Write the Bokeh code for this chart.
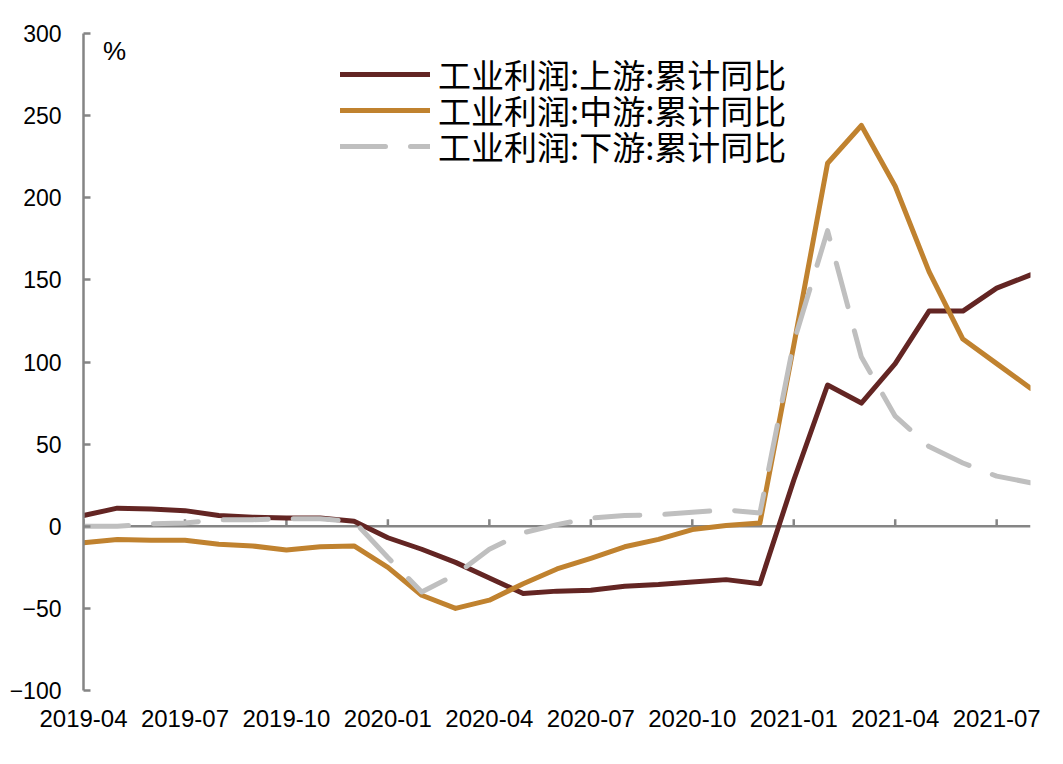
import math
from bokeh.plotting import figure
from bokeh.models import (ColumnDataSource, FixedTicker, Range1d, Span,
                          Legend, LegendItem, Label)
from bokeh.embed import file_html
from bokeh.resources import INLINE

months = ["2019-04", "2019-05", "2019-06", "2019-07", "2019-08", "2019-09",
          "2019-10", "2019-11", "2019-12", "2020-01", "2020-02", "2020-03",
          "2020-04", "2020-05", "2020-06", "2020-07", "2020-08", "2020-09",
          "2020-10", "2020-11", "2020-12", "2021-01", "2021-02", "2021-03",
          "2021-04", "2021-05", "2021-06", "2021-07", "2021-08"]

upstream = [6.5, 11, 10.5, 9.5, 6.5, 5.5, 5, 5, 3, -7, -14, -22, -31.5, -41,
            -39.5, -39, -36.5, -35.5, -34, -32.5, -35, 28, 86, 75, 99, 131,
            131, 145, 153]
midstream = [-10, -8, -8.5, -8.5, -11, -12, -14.5, -12.5, -12, -25, -42, -50,
             -45, -35, -26, -19.5, -12.5, -8, -2, 0.5, 2, 110, 221, 244, 207,
             155, 114, 99, 84]
downstream = [0, 0, 1.5, 2, 4, 4, 4.5, 4.5, 3, -19, -40, -29.5, -14, -4, 1, 5,
              6.5, 7, 8.5, 10, 8, 112, 180, 103, 67, 48.5, 38.5, 30.5, 26.5]

tick_labels = ["2019-04", "2019-07", "2019-10", "2020-01", "2020-04",
               "2020-07", "2020-10", "2021-01", "2021-04", "2021-07"]
y_ticks = [-100, -50, 0, 50, 100, 150, 200, 250, 300]

names = ["工业利润:上游:累计同比", "工业利润:中游:累计同比", "工业利润:下游:累计同比"]
colors = ["#632523", "#C0822F", "#BFBFBF"]

x = list(range(len(months)))
src = ColumnDataSource(dict(x=x, up=upstream, mid=midstream, down=downstream))
tick_idx = [months.index(t) for t in tick_labels]

AXIS_COLOR = "#858585"
NUM_FONT = "Liberation Sans"

p = figure(width=1063, height=764, x_range=Range1d(0, len(months) - 1),
           y_range=Range1d(-100, 300), output_backend="svg",
           toolbar_location=None, min_border_left=83, min_border_right=33,
           min_border_top=33, min_border_bottom=74)
p.outline_line_color = None
p.grid.visible = False
p.background_fill_color = "white"
p.border_fill_color = "white"

# y axis
p.yaxis.ticker = FixedTicker(ticks=y_ticks)
p.yaxis.axis_line_color = AXIS_COLOR
p.yaxis.axis_line_width = 2.5
p.yaxis.major_tick_line_color = AXIS_COLOR
p.yaxis.major_tick_line_width = 2.5
p.yaxis.major_tick_in = 7
p.yaxis.major_tick_out = 0
p.yaxis.minor_tick_line_color = None
p.yaxis.major_label_text_font = NUM_FONT
p.yaxis.major_label_text_font_size = "23px"
p.yaxis.major_label_text_color = "black"
p.yaxis.major_label_standoff = 22

# x axis (labels only, at the bottom)
p.xaxis.ticker = FixedTicker(ticks=tick_idx)
p.xaxis.major_label_overrides = {i: months[i] for i in tick_idx}
p.xaxis.axis_line_color = None
p.xaxis.major_tick_line_color = None
p.xaxis.minor_tick_line_color = None
p.xaxis.major_label_text_font = NUM_FONT
p.xaxis.major_label_text_font_size = "24px"
p.xaxis.major_label_text_color = "black"
p.xaxis.major_label_standoff = 13

# horizontal axis line at zero with upward tick marks
p.add_layout(Span(location=0, dimension="width", line_color=AXIS_COLOR,
                  line_width=2.5, level="underlay"))
p.ray(x=tick_idx, y=[0] * len(tick_idx), length=7, length_units="screen",
      angle=math.pi / 2, line_color=AXIS_COLOR, line_width=2.5,
      level="underlay")

r_up = p.line("x", "up", source=src, line_color=colors[0], line_width=5,
              line_join="round", line_cap="round")
r_mid = p.line("x", "mid", source=src, line_color=colors[1], line_width=5,
               line_join="round", line_cap="round")
r_down = p.line("x", "down", source=src, line_color=colors[2], line_width=5,
                line_join="round", line_cap="round", line_dash="45 25")

# one legend box per entry, stacked with the reference's tight row pitch
legend_rows = [(r_up, 592), (r_mid, 556), (r_down, 520)]
for (rend, vy), name in zip(legend_rows, names):
    lg = Legend(items=[LegendItem(label=name, renderers=[rend])],
                location=(257, vy), orientation="vertical",
                label_text_font="Noto Sans CJK SC",
                label_text_font_size="33px", label_text_color="black",
                glyph_width=90, glyph_height=30, label_height=30, spacing=0,
                label_standoff=8, padding=0, margin=0,
                border_line_color=None, background_fill_alpha=0)
    p.add_layout(lg)

p.add_layout(Label(x=0.58, y=289.5, text="%", text_font=NUM_FONT,
                   text_font_size="26px", text_color="black",
                   text_baseline="alphabetic", text_align="left"))

open("out.html", "w").write(file_html(p, INLINE))
